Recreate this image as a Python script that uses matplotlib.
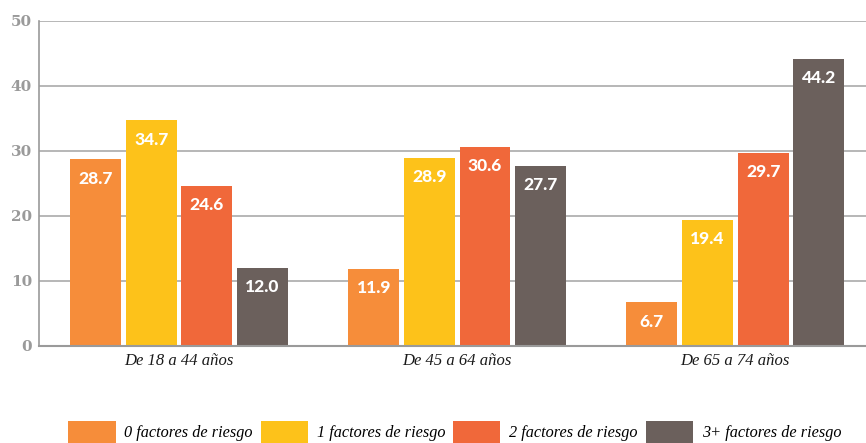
import numpy as np
import matplotlib
matplotlib.use("Agg")
import matplotlib.pyplot as plt

groups = ["De 18 a 44 años", "De 45 a 64 años", "De 65 a 74 años"]
series = ["0 factores de riesgo", "1 factores de riesgo", "2 factores de riesgo", "3+ factores de riesgo"]
f0 = [28.7, 11.9, 6.7]
f1 = [34.7, 28.9, 19.4]
f2 = [24.6, 30.6, 29.7]
f3 = [12.0, 27.7, 44.2]
colors = ["#F68D3A", "#FDC21A", "#F0683A", "#6B605C"]
yticks = [0, 10, 20, 30, 40, 50]

fig = plt.figure(figsize=(8.66, 4.43), dpi=100)
ax = fig.add_axes([0.045, 0.219, 0.955, 0.734])

x = np.arange(len(groups))
step = 0.2
width = 0.183
for i, (vals, col, name) in enumerate(zip([f0, f1, f2, f3], colors, series)):
    pos = x + (i - 1.5) * step
    ax.bar(pos, vals, width=width, color=col, label=name, zorder=3)
    for px, v in zip(pos, vals):
        ax.annotate(f"{v:.1f}", (px, v), xytext=(0, -14), textcoords="offset points",
                    ha="center", va="center", color="white", fontsize=12.5,
                    fontweight=900, family="Lato", zorder=4)

ax.set_xlim(-0.504, 2.47)
ax.set_ylim(0, 50)
ax.set_yticks(yticks)
ax.set_yticklabels([str(t) for t in yticks], family="DejaVu Serif",
                   fontweight="bold", fontsize=11, color="#9A9A9A")
ax.set_xticks(x)
ax.set_xticklabels(groups, family="Liberation Serif", style="italic", fontsize=12, color="#1A1A1A")
ax.tick_params(axis="both", length=0)
ax.tick_params(axis="y", pad=5)
ax.tick_params(axis="x", pad=5)
ax.yaxis.grid(True, color="#AAAAAA", linewidth=1.2, zorder=0)
for s in ["top", "right"]:
    ax.spines[s].set_visible(False)
ax.spines["left"].set_color("#9A9A9A")
ax.spines["left"].set_linewidth(1.2)
ax.spines["bottom"].set_color("#9A9A9A")
ax.spines["bottom"].set_linewidth(1.5)
ax.spines["bottom"].set_zorder(5)

# legend sized in font units: 11.7pt -> ~16.25 px per em
fig.legend(loc="lower left", bbox_to_anchor=(0.079, 0.0), ncol=4, frameon=False,
           prop={"family": "Liberation Serif", "style": "italic", "size": 11.7},
           handlelength=2.9, handleheight=1.7, handletextpad=0.55,
           columnspacing=0.48, borderaxespad=0.0, borderpad=0.0)

fig.savefig("out.png", dpi=100)
